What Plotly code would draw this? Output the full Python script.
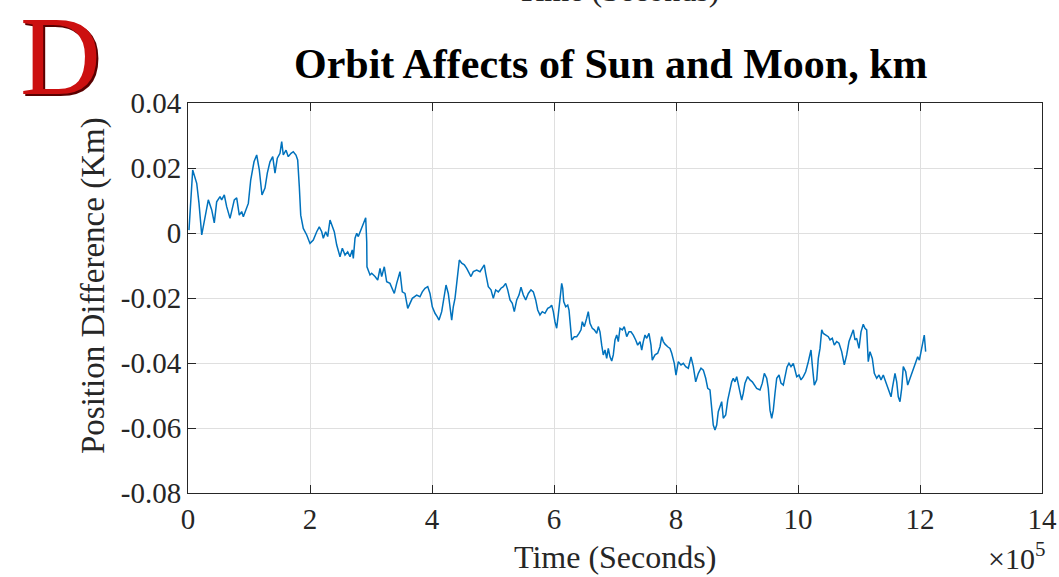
import plotly.graph_objects as go

# Time samples in units of 1e5 seconds, and position difference in km
time_e5 = [
    0.016, 0.077, 0.143, 0.180, 0.225, 0.279, 0.333, 0.389, 0.431, 0.470,
    0.525, 0.552, 0.595, 0.634, 0.689, 0.759, 0.798, 0.841, 0.880, 0.907,
    0.962, 0.989, 1.028, 1.082, 1.126, 1.169, 1.213, 1.262, 1.300, 1.344,
    1.389, 1.426, 1.464, 1.508, 1.536, 1.562, 1.607, 1.644, 1.689, 1.726,
    1.770, 1.798, 1.825, 1.848, 1.890, 1.946, 2.000, 2.054, 2.110, 2.152,
    2.192, 2.218, 2.257, 2.290, 2.328, 2.356, 2.398, 2.438, 2.492, 2.530,
    2.574, 2.618, 2.656, 2.693, 2.710, 2.738, 2.766, 2.792, 2.848, 2.890,
    2.913, 2.930, 2.934, 2.984, 3.011, 3.066, 3.110, 3.148, 3.175, 3.218,
    3.257, 3.311, 3.349, 3.382, 3.421, 3.475, 3.513, 3.557, 3.602, 3.639,
    3.677, 3.749, 3.803, 3.841, 3.885, 3.930, 3.967, 4.005, 4.049, 4.087,
    4.115, 4.159, 4.202, 4.230, 4.267, 4.295, 4.323, 4.349, 4.377, 4.405,
    4.431, 4.448, 4.487, 4.530, 4.569, 4.595, 4.639, 4.677, 4.733, 4.787,
    4.825, 4.857, 4.880, 4.923, 4.967, 5.005, 5.044, 5.087, 5.131, 5.169,
    5.208, 5.241, 5.279, 5.316, 5.349, 5.389, 5.426, 5.459, 5.497, 5.536,
    5.579, 5.623, 5.661, 5.700, 5.733, 5.770, 5.808, 5.852, 5.897, 5.934,
    5.962, 5.989, 6.016, 6.044, 6.070, 6.098, 6.126, 6.143, 6.159, 6.192,
    6.225, 6.246, 6.267, 6.290, 6.333, 6.372, 6.410, 6.443, 6.464, 6.497,
    6.536, 6.562, 6.590, 6.628, 6.661, 6.700, 6.726, 6.754, 6.782, 6.808,
    6.836, 6.864, 6.890, 6.918, 6.946, 6.972, 7.000, 7.028, 7.054, 7.082,
    7.120, 7.152, 7.192, 7.230, 7.262, 7.300, 7.339, 7.372, 7.410, 7.438,
    7.464, 7.492, 7.520, 7.557, 7.590, 7.611, 7.656, 7.700, 7.738, 7.766,
    7.792, 7.820, 7.864, 7.902, 7.930, 7.972, 8.000, 8.038, 8.082, 8.120,
    8.159, 8.202, 8.246, 8.284, 8.323, 8.366, 8.410, 8.448, 8.487, 8.520,
    8.557, 8.585, 8.611, 8.639, 8.667, 8.693, 8.721, 8.749, 8.775, 8.815,
    8.848, 8.885, 8.913, 8.939, 8.967, 8.995, 9.033, 9.077, 9.103, 9.131,
    9.175, 9.213, 9.251, 9.284, 9.323, 9.377, 9.415, 9.448, 9.487, 9.513,
    9.541, 9.569, 9.595, 9.623, 9.651, 9.689, 9.721, 9.759, 9.787, 9.820,
    9.852, 9.885, 9.923, 9.951, 9.979, 10.016, 10.049, 10.087, 10.126, 10.169,
    10.213, 10.234, 10.267, 10.307, 10.333, 10.361, 10.389, 10.415, 10.454, 10.497,
    10.525, 10.562, 10.595, 10.634, 10.672, 10.716, 10.759, 10.798, 10.836, 10.869,
    10.907, 10.934, 10.962, 11.000, 11.033, 11.070, 11.098, 11.126, 11.152, 11.180,
    11.218, 11.251, 11.290, 11.328, 11.361, 11.398, 11.438, 11.480, 11.525, 11.546,
    11.590, 11.618, 11.644, 11.672, 11.700, 11.726, 11.766, 11.798, 11.836, 11.874,
    11.918, 11.962, 11.990, 12.028, 12.054, 12.070, 12.093,
]

position_diff_km = [
    0.0009, 0.0194, 0.0153, 0.0092, -0.0006, 0.0050, 0.0102, 0.0071, 0.0031, 0.0096,
    0.0112, 0.0102, 0.0117, 0.0081, 0.0045, 0.0102, 0.0108, 0.0055, 0.0066, 0.0050,
    0.0081, 0.0091, 0.0163, 0.0219, 0.0240, 0.0194, 0.0117, 0.0138, 0.0184, 0.0219,
    0.0235, 0.0184, 0.0230, 0.0245, 0.0281, 0.0240, 0.0255, 0.0235, 0.0245, 0.0250,
    0.0240, 0.0225, 0.0142, 0.0055, 0.0014, -0.0006, -0.0032, -0.0022, 0.0004, 0.0019,
    0.0004, -0.0016, 0.0004, -0.0011, 0.0040, 0.0025, 0.0004, -0.0037, -0.0073, -0.0047,
    -0.0068, -0.0058, -0.0073, -0.0052, -0.0078, -0.0016, -0.0001, -0.0011, 0.0014, 0.0035,
    0.0047, -0.0027, -0.0104, -0.0129, -0.0124, -0.0134, -0.0145, -0.0109, -0.0134, -0.0104,
    -0.0150, -0.0155, -0.0170, -0.0186, -0.0155, -0.0119, -0.0181, -0.0186, -0.0232, -0.0216,
    -0.0201, -0.0191, -0.0196, -0.0181, -0.0170, -0.0165, -0.0186, -0.0227, -0.0247, -0.0258,
    -0.0268, -0.0242, -0.0196, -0.0160, -0.0186, -0.0227, -0.0268, -0.0227, -0.0201, -0.0155,
    -0.0098, -0.0083, -0.0093, -0.0098, -0.0109, -0.0119, -0.0134, -0.0119, -0.0114, -0.0119,
    -0.0109, -0.0098, -0.0124, -0.0165, -0.0175, -0.0201, -0.0175, -0.0181, -0.0170, -0.0165,
    -0.0155, -0.0175, -0.0206, -0.0216, -0.0242, -0.0206, -0.0191, -0.0167, -0.0191, -0.0206,
    -0.0186, -0.0175, -0.0181, -0.0206, -0.0237, -0.0252, -0.0242, -0.0247, -0.0232, -0.0228,
    -0.0222, -0.0242, -0.0273, -0.0293, -0.0252, -0.0201, -0.0155, -0.0170, -0.0211, -0.0227,
    -0.0222, -0.0237, -0.0293, -0.0329, -0.0319, -0.0319, -0.0309, -0.0298, -0.0273, -0.0288,
    -0.0262, -0.0242, -0.0278, -0.0293, -0.0298, -0.0309, -0.0288, -0.0304, -0.0345, -0.0375,
    -0.0360, -0.0386, -0.0355, -0.0381, -0.0394, -0.0375, -0.0329, -0.0314, -0.0334, -0.0293,
    -0.0298, -0.0288, -0.0319, -0.0304, -0.0304, -0.0314, -0.0329, -0.0345, -0.0334, -0.0360,
    -0.0334, -0.0314, -0.0324, -0.0309, -0.0345, -0.0391, -0.0375, -0.0370, -0.0350, -0.0319,
    -0.0334, -0.0342, -0.0350, -0.0355, -0.0370, -0.0401, -0.0437, -0.0396, -0.0406, -0.0401,
    -0.0411, -0.0416, -0.0381, -0.0411, -0.0458, -0.0432, -0.0416, -0.0422, -0.0447, -0.0478,
    -0.0483, -0.0534, -0.0591, -0.0606, -0.0591, -0.0550, -0.0534, -0.0519, -0.0570, -0.0560,
    -0.0514, -0.0483, -0.0458, -0.0447, -0.0458, -0.0442, -0.0478, -0.0514, -0.0493, -0.0462,
    -0.0442, -0.0452, -0.0458, -0.0468, -0.0478, -0.0483, -0.0462, -0.0432, -0.0447, -0.0478,
    -0.0545, -0.0570, -0.0545, -0.0493, -0.0447, -0.0437, -0.0462, -0.0468, -0.0446, -0.0412,
    -0.0401, -0.0411, -0.0401, -0.0422, -0.0442, -0.0437, -0.0452, -0.0442, -0.0427, -0.0396,
    -0.0360, -0.0406, -0.0468, -0.0452, -0.0386, -0.0355, -0.0298, -0.0309, -0.0314, -0.0319,
    -0.0329, -0.0324, -0.0345, -0.0334, -0.0339, -0.0365, -0.0406, -0.0375, -0.0334, -0.0314,
    -0.0298, -0.0329, -0.0324, -0.0355, -0.0304, -0.0281, -0.0293, -0.0298, -0.0396, -0.0365,
    -0.0386, -0.0432, -0.0447, -0.0437, -0.0452, -0.0437, -0.0458, -0.0483, -0.0504, -0.0478,
    -0.0432, -0.0458, -0.0504, -0.0519, -0.0478, -0.0411, -0.0427, -0.0468, -0.0447, -0.0427,
    -0.0406, -0.0381, -0.0391, -0.0355, -0.0324, -0.0314, -0.0365,
]

x_tick_values_e5 = [0, 2, 4, 6, 8, 10, 12, 14]
x_tick_labels = ["0", "2", "4", "6", "8", "10", "12", "14"]
y_tick_values = [-0.08, -0.06, -0.04, -0.02, 0, 0.02, 0.04]
y_tick_labels = ["-0.08", "-0.06", "-0.04", "-0.02", "0", "0.02", "0.04"]

time_s = [t * 1e5 for t in time_e5]

SERIF = "Liberation Serif, Times New Roman, serif"
AXIS_COLOR = "#262626"
GRID_COLOR = "#DFDFDF"

W, H = 1059, 577
L, R, T, B = 188, 17, 103, 84


def px_x(px):
    return (px - L) / (W - L - R)


def px_y(py):
    return (H - B - py) / (H - T - B)


fig = go.Figure()
fig.add_trace(go.Scatter(
    x=time_s, y=position_diff_km, mode="lines",
    line=dict(color="#0072BD", width=1.5),
    showlegend=False, hoverinfo="skip",
))

axis_common = dict(
    showline=True, linecolor=AXIS_COLOR, linewidth=1, mirror="ticks",
    ticks="inside", ticklen=8, tickcolor=AXIS_COLOR, tickwidth=1,
    showgrid=True, gridcolor=GRID_COLOR, gridwidth=1, zeroline=False,
    automargin=False, ticklabeloverflow="allow",
    tickfont=dict(family=SERIF, size=29, color=AXIS_COLOR),
)

fig.update_xaxes(
    range=[0, 14e5], tickmode="array",
    tickvals=[v * 1e5 for v in x_tick_values_e5], ticktext=x_tick_labels,
    **axis_common,
)
fig.update_yaxes(
    range=[-0.08, 0.04], tickmode="array",
    tickvals=y_tick_values, ticktext=y_tick_labels,
    **axis_common,
)

annotations = [
    # title
    dict(x=px_x(611), y=px_y(64), text="<b>Orbit Affects of Sun and Moon, km</b>",
         font=dict(family=SERIF, size=42, color="#000000")),
    # axis labels (kept inside the bottom edge of the page)
    dict(x=px_x(615), y=px_y(577), yanchor="bottom", text="Time (Seconds)",
         font=dict(family=SERIF, size=32, color=AXIS_COLOR)),
    dict(x=px_x(93), y=px_y(286), text="Position Difference (Km)", textangle=-90,
         font=dict(family=SERIF, size=33, color=AXIS_COLOR)),
    # exponent of the time axis
    dict(x=px_x(1047), y=px_y(577), xanchor="right", yanchor="bottom",
         text="×10<sup>5</sup>",
         font=dict(family=SERIF, size=30, color=AXIS_COLOR)),
    # labels of the panel above, running off the top edge
    dict(x=px_x(618), y=px_y(-10), text="Time (Seconds)",
         font=dict(family=SERIF, size=32, color=AXIS_COLOR)),
    dict(x=px_x(1040), y=px_y(-10), xanchor="right", text="×10",
         font=dict(family=SERIF, size=29, color=AXIS_COLOR)),
    # panel letter with a dark edge
    dict(x=px_x(62), y=px_y(58), text="D",
         font=dict(family=SERIF, size=112, color="#5A0000")),
    dict(x=px_x(60), y=px_y(56), text="D",
         font=dict(family=SERIF, size=112, color="#CC1010")),
]
for a in annotations:
    a.setdefault("xanchor", "center")
    a.setdefault("yanchor", "middle")
    fig.add_annotation(xref="paper", yref="paper", showarrow=False, **a)

fig.update_layout(
    width=W, height=H,
    margin=dict(l=L, r=R, t=T, b=B, pad=0, autoexpand=False),
    paper_bgcolor="white", plot_bgcolor="white",
)

fig.write_html("out.html")
